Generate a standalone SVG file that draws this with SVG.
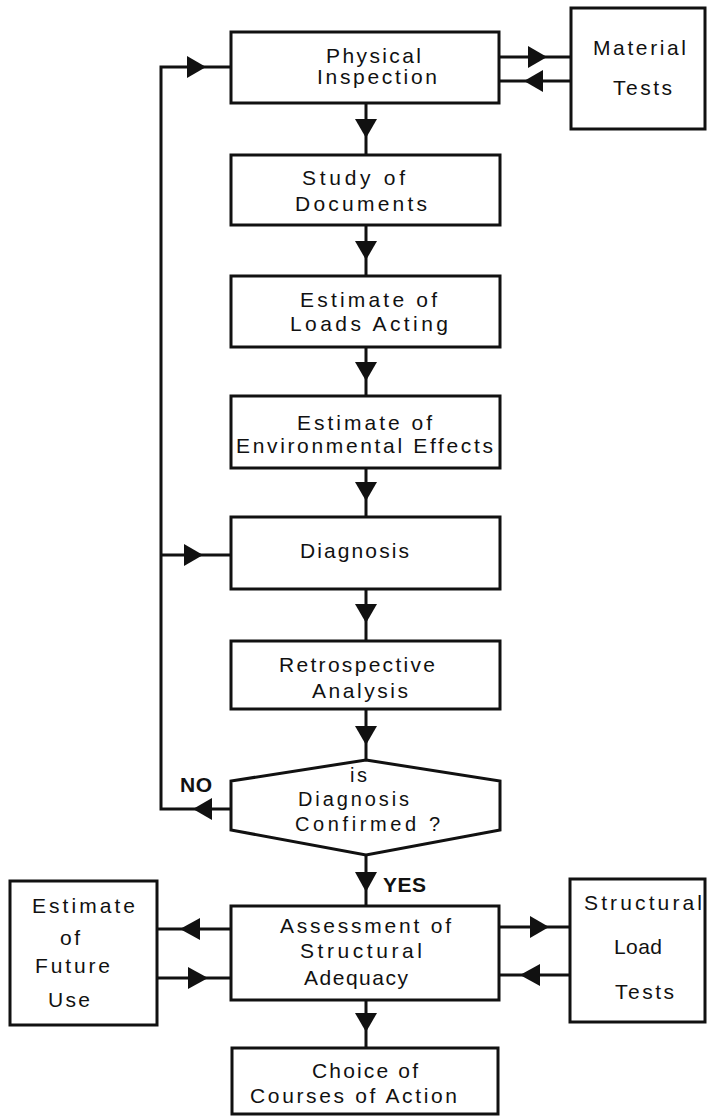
<svg xmlns="http://www.w3.org/2000/svg" width="707" height="1117" viewBox="0 0 707 1117">
<style>
.box{fill:#fff;stroke:#111;stroke-width:3;stroke-linejoin:miter}
.ln{fill:none;stroke:#111;stroke-width:3}
.ah{fill:#111;stroke:none}
text{font-family:"Liberation Sans",Arial,sans-serif;font-size:21px;fill:#111}
.s{font-size:20px}
.b{font-weight:bold}
</style>
<rect width="707" height="1117" fill="#fff"/>
<g id="connectors">
<path class="ln" d="M231,67 H161 V809 H231"/>
<path class="ln" d="M161,555 H231"/>
<path class="ln" d="M366,103 V155 M366,225 V276 M366,347 V396 M366,468 V517 M366,589 V641 M366,709 V760 M366,855 V906 M366,1000 V1048"/>
<path class="ln" d="M499,57 H571 M499,81 H571"/>
<path class="ln" d="M157,929 H231 M157,978 H231"/>
<path class="ln" d="M499,927 H570 M499,975 H570"/>
<polygon class="ah" points="355,119 377,119 366,138"/>
<polygon class="ah" points="355,241 377,241 366,260"/>
<polygon class="ah" points="355,362 377,362 366,381"/>
<polygon class="ah" points="355,482 377,482 366,501"/>
<polygon class="ah" points="355,604 377,604 366,623"/>
<polygon class="ah" points="355,726 377,726 366,745"/>
<polygon class="ah" points="355,872 377,872 366,892"/>
<polygon class="ah" points="355,1013 377,1013 366,1032"/>
<polygon class="ah" points="187,56 187,78 206,67"/>
<polygon class="ah" points="184,544 184,566 203,555"/>
<polygon class="ah" points="212,798 212,820 193,809"/>
<polygon class="ah" points="528,46 528,68 547,57"/>
<polygon class="ah" points="543,70 543,92 524,81"/>
<polygon class="ah" points="200,918 200,940 180,929"/>
<polygon class="ah" points="188,967 188,989 208,978"/>
<polygon class="ah" points="530,916 530,938 549,927"/>
<polygon class="ah" points="540,964 540,986 520,975"/>
</g>
<g id="physical-inspection">
<rect class="box" x="231" y="32" width="268" height="71"/>
<text x="326" y="63" textLength="95" lengthAdjust="spacing">Physical</text>
<text x="317" y="84" textLength="120" lengthAdjust="spacing">Inspection</text>
</g>
<g id="material-tests">
<rect class="box" x="571" y="8" width="134" height="121"/>
<text x="593" y="55" textLength="93" lengthAdjust="spacing">Material</text>
<text x="613" y="95" textLength="59" lengthAdjust="spacing">Tests</text>
</g>
<g id="study-documents">
<rect class="box" x="231" y="155" width="269" height="70"/>
<text x="302" y="185" textLength="103" lengthAdjust="spacing">Study of</text>
<text x="295" y="211" textLength="132" lengthAdjust="spacing">Documents</text>
</g>
<g id="estimate-loads">
<rect class="box" x="231" y="276" width="269" height="71"/>
<text x="300" y="307" textLength="137" lengthAdjust="spacing">Estimate of</text>
<text x="290" y="331" textLength="158" lengthAdjust="spacing">Loads Acting</text>
</g>
<g id="estimate-environmental">
<rect class="box" x="231" y="396" width="269" height="72"/>
<text x="297" y="430" textLength="135" lengthAdjust="spacing">Estimate of</text>
<text x="236" y="453" textLength="257" lengthAdjust="spacing">Environmental Effects</text>
</g>
<g id="diagnosis">
<rect class="box" x="231" y="517" width="269" height="72"/>
<text x="300" y="558" textLength="109" lengthAdjust="spacing">Diagnosis</text>
</g>
<g id="retrospective-analysis">
<rect class="box" x="231" y="641" width="269" height="68"/>
<text x="279" y="672" textLength="156" lengthAdjust="spacing">Retrospective</text>
<text x="312" y="698" textLength="96" lengthAdjust="spacing">Analysis</text>
</g>
<g id="decision">
<polygon class="box" points="366,760 500,781 500,830 366,855 231,830 231,781"/>
<text class="s" x="350" y="782" textLength="17" lengthAdjust="spacing">is</text>
<text class="s" x="298" y="806" textLength="111" lengthAdjust="spacing">Diagnosis</text>
<text class="s" x="295" y="831" textLength="145" lengthAdjust="spacing">Confirmed ?</text>
<text class="b" x="180" y="792" textLength="32" lengthAdjust="spacing">NO</text>
<text class="b" x="383" y="892" textLength="43" lengthAdjust="spacing">YES</text>
</g>
<g id="assessment">
<rect class="box" x="231" y="906" width="268" height="94"/>
<text x="280" y="933" textLength="171" lengthAdjust="spacing">Assessment of</text>
<text x="300" y="958" textLength="122" lengthAdjust="spacing">Structural</text>
<text x="304" y="985" textLength="104" lengthAdjust="spacing">Adequacy</text>
</g>
<g id="future-use">
<rect class="box" x="10" y="881" width="147" height="144"/>
<text x="32" y="913" textLength="103" lengthAdjust="spacing">Estimate</text>
<text x="60" y="945" textLength="20" lengthAdjust="spacing">of</text>
<text x="35" y="973" textLength="75" lengthAdjust="spacing">Future</text>
<text x="48" y="1007" textLength="42" lengthAdjust="spacing">Use</text>
</g>
<g id="load-tests">
<rect class="box" x="570" y="879" width="135" height="143"/>
<text x="584" y="910" textLength="118" lengthAdjust="spacing">Structural</text>
<text x="614" y="954" textLength="48" lengthAdjust="spacing">Load</text>
<text x="615" y="999" textLength="59" lengthAdjust="spacing">Tests</text>
</g>
<g id="choice">
<rect class="box" x="232" y="1048" width="266" height="66"/>
<text x="312" y="1078" textLength="106" lengthAdjust="spacing">Choice of</text>
<text x="250" y="1103" textLength="207" lengthAdjust="spacing">Courses of Action</text>
</g>
</svg>
